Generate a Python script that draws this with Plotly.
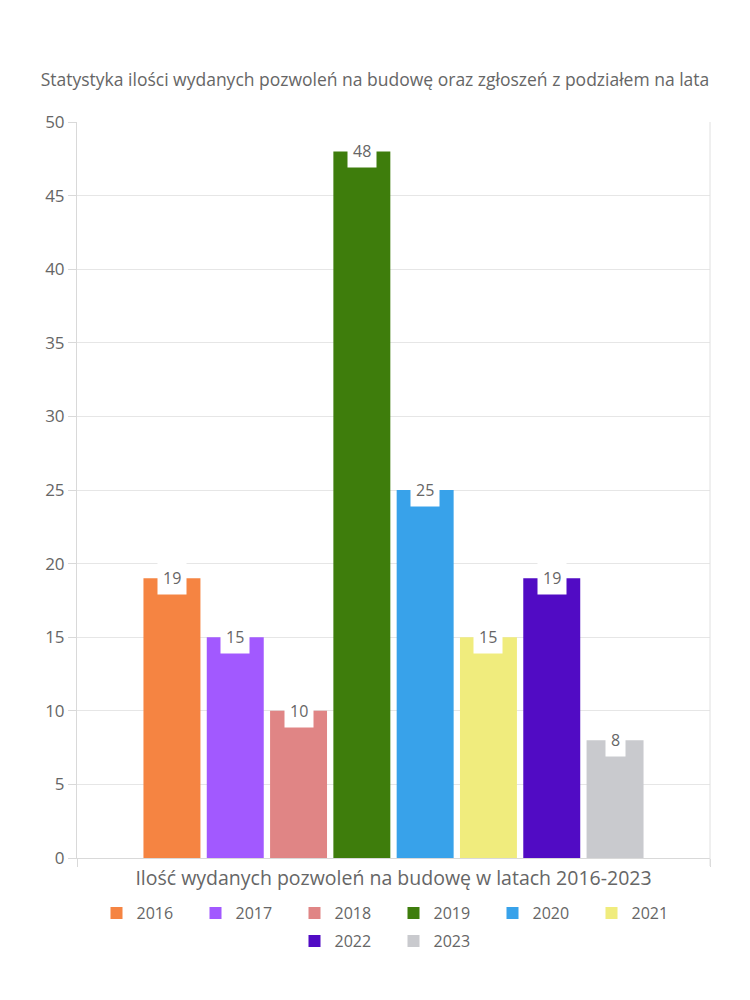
import plotly.graph_objects as go

category = ["Ilość wydanych pozwoleń na budowę w latach 2016-2023"]
years = ["2016", "2017", "2018", "2019", "2020", "2021", "2022", "2023"]
values = [19, 15, 10, 48, 25, 15, 19, 8]
colors = ["#F58442", "#A259FF", "#E08585", "#3E7D0C", "#38A2EA", "#F0EC7D", "#510BC4", "#C9CACE"]
y_ticks = [0, 5, 10, 15, 20, 25, 30, 35, 40, 45, 50]

FONT = "Open Sans, Noto Sans, sans-serif"
GRAY = "#666666"

fig = go.Figure()
for i, (yr, v, c) in enumerate(zip(years, values, colors)):
    fig.add_trace(go.Bar(name=yr, x=category, y=[v], marker=dict(color=c, line=dict(width=0)),
                         hoverinfo="skip", legend="legend" if i < 6 else "legend2"))

W, H = 750, 1000
OFF = 8  # page body margin
ml, mr, mt, mb = 77 - OFF, 40 + OFF, 122 - OFF, 142 + OFF
plot_w = W - ml - mr
plot_h = H - mt - mb
bargap = 0.20
bargroupgap = 0.10
slot = plot_w * (1 - bargap) / len(years)
for i, v in enumerate(values):
    fig.add_annotation(x=category[0], y=v, xref="x", yref="y", text=str(v), showarrow=False,
                       xshift=(i - (len(years) - 1) / 2) * slot, yshift=0,
                       bgcolor="white", borderpad=5, font=dict(family=FONT, size=16, color=GRAY))

legend_font = dict(family=FONT, size=16, color=GRAY)
fig.update_layout(
    width=W, height=H,
    margin=dict(l=ml, r=mr, t=mt, b=mb),
    paper_bgcolor="white", plot_bgcolor="white",
    barmode="group", bargap=bargap, bargroupgap=bargroupgap,
    font=dict(family=FONT, color=GRAY),
    title=dict(text="Statystyka ilości wydanych pozwoleń na budowę oraz zgłoszeń z podziałem na lata",
               x=(375 - OFF) / W, xanchor="center", y=1 - (80 - OFF) / H, yanchor="middle",
               font=dict(family=FONT, size=17.5, color=GRAY)),
    legend=dict(orientation="h", x=0.5, xanchor="center", y=-38 / plot_h, yanchor="top",
                font=legend_font, entrywidth=54, traceorder="normal"),
    legend2=dict(orientation="h", x=0.5, xanchor="center", y=-66 / plot_h, yanchor="top",
                 font=legend_font, entrywidth=54, traceorder="normal"),
    showlegend=True,
)
fig.update_xaxes(showline=True, linecolor="#d9d9d9", ticks="outside", tickson="boundaries",
                 ticklen=8, tickcolor="#d9d9d9", showticklabels=False, showgrid=False,
                 title=dict(text=category[0], font=dict(family=FONT, size=19.5, color=GRAY), standoff=13))
fig.update_yaxes(range=[0, 50], tickvals=y_ticks, showline=True, linecolor="#d9d9d9",
                 gridcolor="#e6e6e6", ticks="outside", ticklen=8, tickcolor="#d9d9d9",
                 tickfont=dict(family=FONT, size=17, color=GRAY), zeroline=False)
fig.add_shape(type="line", xref="paper", yref="paper", x0=1, x1=1, y0=-8 / plot_h, y1=1,
              line=dict(color="#e0e0e0", width=1))

fig.write_html("out.html")
